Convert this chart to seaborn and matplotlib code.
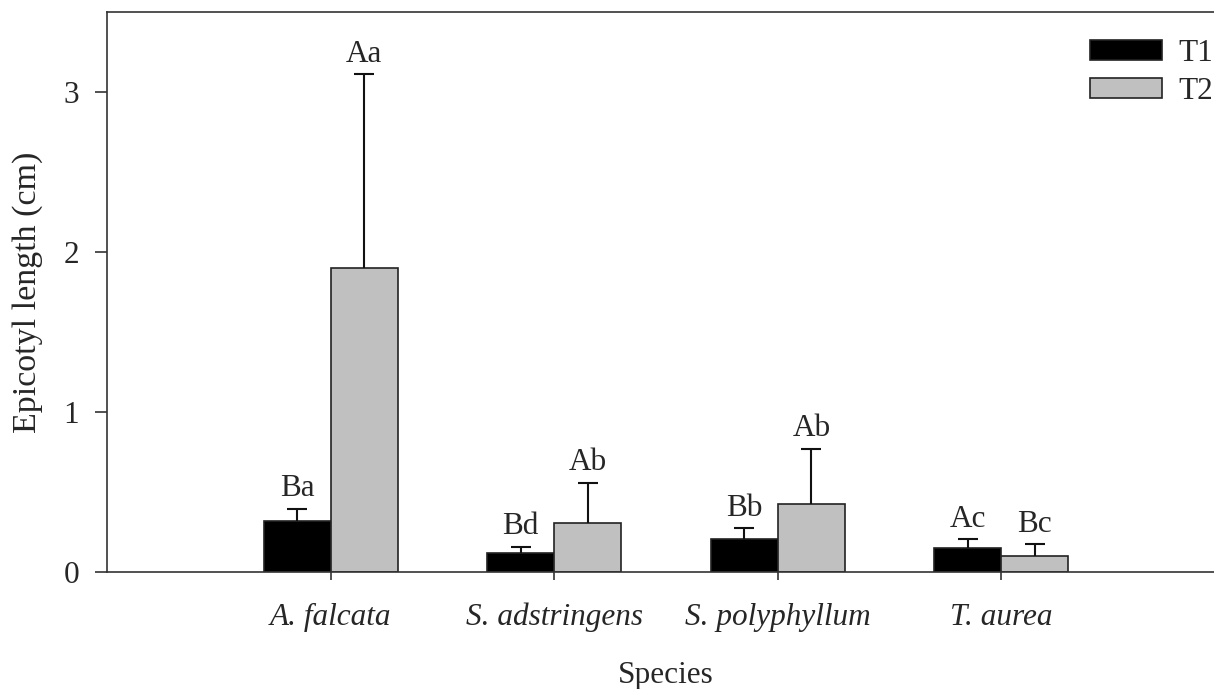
import matplotlib
matplotlib.use("Agg")
import matplotlib.pyplot as plt
import seaborn as sns
import pandas as pd
import numpy as np

species = ["A. falcata", "S. adstringens", "S. polyphyllum", "T. aurea"]
treatments = ["T1", "T2"]
t1_mean = [0.321, 0.120, 0.204, 0.152]
t2_mean = [1.902, 0.308, 0.423, 0.102]
t1_upper = [0.394, 0.158, 0.273, 0.204]
t2_upper = [3.11, 0.558, 0.771, 0.173]
t1_letters = ["Ba", "Bd", "Bb", "Ac"]
t2_letters = ["Aa", "Ab", "Ab", "Bc"]

df = pd.DataFrame({
    "Species": species * 2,
    "Treatment": ["T1"] * 4 + ["T2"] * 4,
    "Length": t1_mean + t2_mean,
})

sns.set_style("white")
plt.rcParams["font.family"] = ["Liberation Serif", "DejaVu Serif"]
FS = 22.5
plt.rcParams["font.size"] = FS

W, H = 1214, 689
fig = plt.figure(figsize=(W / 100, H / 100), dpi=100)
ax = fig.add_axes([107 / W, (H - 572) / H, (1225 - 107) / W, (572 - 12) / H])

sns.barplot(data=df, x="Species", y="Length", hue="Treatment", order=species,
            hue_order=treatments, palette=["#000000", "#c0c0c0"], width=0.6,
            edgecolor="#222222", linewidth=1.2, errorbar=None, ax=ax,
            saturation=1)

ax.set_xlim(-1, 4)
ax.set_ylim(0, 3.5)
ax.set_yticks([0, 1, 2, 3])
ax.set_yticklabels(["0", "1", "2", "3"])

means = [t1_mean, t2_mean]
uppers = [t1_upper, t2_upper]
letters = [t1_letters, t2_letters]
bar_containers = list(ax.containers)
for k, cont in enumerate(bar_containers):
    xs = [p.get_x() + p.get_width() / 2 for p in cont.patches]
    m = np.array(means[k])
    u = np.array(uppers[k])
    _, caps, _ = ax.errorbar(xs, m, yerr=[np.zeros_like(m), u - m], fmt="none",
                             ecolor="#111111", elinewidth=1.5, capsize=7.2,
                             capthick=1.5)
    caps[0].set_visible(False)
    for x, top, lab in zip(xs, u, letters[k]):
        ax.annotate(lab, (x, top), xytext=(0, 9), textcoords="offset points",
                    ha="center", va="baseline", fontsize=FS)

for s in ["left", "bottom", "top", "right"]:
    ax.spines[s].set_visible(True)
    ax.spines[s].set_color("#333333")
    ax.spines[s].set_linewidth(1.2)

ax.tick_params(axis="y", direction="out", length=9, width=1.2, color="#333333",
               pad=11, labelsize=FS, left=True)
ax.tick_params(axis="x", direction="out", length=6, width=1.2, color="#333333",
               pad=16, labelsize=FS, bottom=True)
for t in ax.get_xticklabels():
    t.set_fontstyle("italic")

ax.set_xlabel("Species", fontsize=FS, labelpad=21)
ax.set_ylabel("Epicotyl length (cm)", fontsize=24.5)
ax.yaxis.set_label_coords(-0.057, 0.5)

leg = ax.legend(loc="upper left", bbox_to_anchor=(1090 / W, 1 - 39 / H),
                bbox_transform=fig.transFigure, frameon=False, fontsize=FS,
                handlelength=2.3, handleheight=0.62, handletextpad=0.52,
                labelspacing=0.28, borderpad=0, borderaxespad=0)
for p in leg.get_patches():
    p.set_edgecolor("#222222")

fig.savefig("out.png", dpi=100)
